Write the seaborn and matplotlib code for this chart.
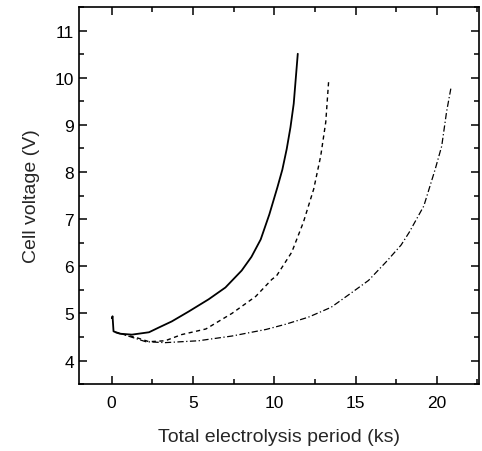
import matplotlib
matplotlib.use("Agg")
import matplotlib.pyplot as plt
import seaborn as sns
from matplotlib.ticker import MultipleLocator

# solid curve
t_solid = [0.02, 0.06, 0.12, 0.5, 1.25, 2.3, 2.9, 3.7, 4.74, 5.97, 7.0, 8.0, 8.6, 9.17,
           9.7, 10.2, 10.5, 10.77, 11.0, 11.2, 11.45]
v_solid = [4.9, 4.94, 4.62, 4.57, 4.55, 4.6, 4.7, 4.83, 5.04, 5.3, 5.55, 5.91, 6.2, 6.57,
           7.1, 7.68, 8.05, 8.49, 8.95, 9.45, 10.51]

# dashed curve
t_dash = [0.2, 1.5, 2.3, 3.3, 4.3, 5.8, 7.4, 8.86, 9.85, 10.15, 11.08, 11.8, 12.43, 12.86,
          13.17, 13.35]
v_dash = [4.6, 4.49, 4.4, 4.42, 4.55, 4.67, 5.0, 5.36, 5.72, 5.8, 6.3, 6.94, 7.64, 8.34,
          9.06, 9.94]

# dash-dot curve
t_dd = [0.3, 1.2, 2.1, 3.3, 5.35, 7.4, 9.5, 10.7, 12.1, 13.5, 14.8, 15.8, 16.9, 17.8,
        18.3, 19.2, 19.9, 20.3, 20.6, 20.86]
v_dd = [4.6, 4.5, 4.4, 4.38, 4.42, 4.52, 4.66, 4.77, 4.92, 5.13, 5.45, 5.7, 6.1, 6.45,
        6.72, 7.28, 8.06, 8.55, 9.28, 9.77]

sns.set_style("ticks")
plt.rcParams['font.family'] = ['Liberation Sans', 'DejaVu Sans']

fig = plt.figure(figsize=(4.82, 4.52), dpi=100)
ax = fig.add_axes([0.164, 0.148, 0.83, 0.834])

sns.lineplot(x=t_solid, y=v_solid, ax=ax, color='black', lw=1.3, sort=False)
sns.lineplot(x=t_dash, y=v_dash, ax=ax, color='black', lw=1.0, linestyle=(0, (3, 2.5)), sort=False)
sns.lineplot(x=t_dd, y=v_dd, ax=ax, color='black', lw=0.9, linestyle=(0, (5, 2, 1, 2)), sort=False)

ax.set_xlim(-2, 22.6)
ax.set_ylim(3.5, 11.5)
ax.xaxis.set_major_locator(MultipleLocator(5))
ax.xaxis.set_minor_locator(MultipleLocator(2.5))
ax.yaxis.set_major_locator(MultipleLocator(1))
ax.yaxis.set_minor_locator(MultipleLocator(0.5))
ax.tick_params(which='both', direction='in', top=True, right=True, labelsize=12.5, width=1.1, colors='black')
ax.tick_params(which='major', length=6)
ax.tick_params(which='minor', length=3.5)
ax.tick_params(axis='x', pad=8)
for s in ax.spines.values():
    s.set_linewidth(1.2)
    s.set_color('black')

ax.set_xlabel('Total electrolysis period (ks)', fontsize=14, labelpad=13)
ax.set_ylabel('Cell voltage (V)', fontsize=14, labelpad=11)

fig.savefig('out.png', dpi=100)
